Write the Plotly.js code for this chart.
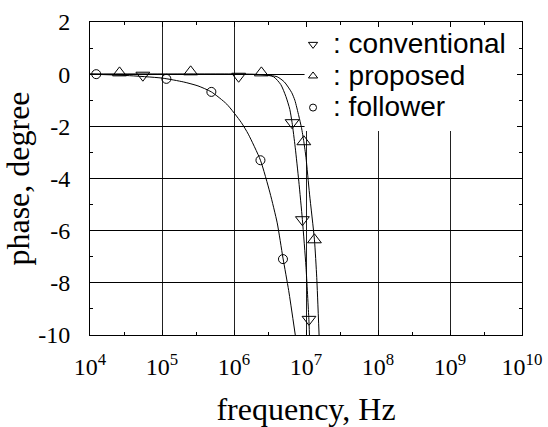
<!DOCTYPE html>
<html>
<head>
<meta charset="utf-8">
<script src="https://cdn.plot.ly/plotly-3.0.1.min.js"></script>
<style>
html,body{margin:0;padding:0;background:#fff;}
#chart{width:548px;height:427px;}
</style>
</head>
<body>
<div id="chart"></div>
<script>
// ---- data ----
// conventional (down triangles)
var convMarkF = [5.42e4, 1.16e6, 6.41e6, 8.91e6, 1.10e7];
var convMarkP = [-0.04, -0.08, -1.86, -5.58, -9.4];
var convCurveF = [1e4, 1e5, 1e6, 2.51e6, 3.55e6, 4.47e6, 5.25e6, 5.96e6, 6.41e6, 7.08e6, 7.94e6, 8.91e6, 1.0e7, 1.096e7, 1.117e7];
var convCurveP = [0, 0, 0, -0.02, -0.1, -0.4, -0.85, -1.35, -1.86, -2.8, -4.1, -5.58, -7.4, -9.4, -10];
// proposed (up triangles)
var propMarkF = [2.57e4, 2.5e5, 2.4e6, 9.33e6, 1.31e7];
var propMarkP = [0.05, 0.09, 0.05, -2.59, -6.35];
var propCurveF = [1e4, 1e5, 1e6, 2.5e6, 3.98e6, 5.01e6, 6.31e6, 7.0e6, 7.94e6, 8.65e6, 9.33e6, 1.0e7, 1.12e7, 1.31e7, 1.41e7, 1.52e7];
var propCurveP = [0, 0, 0, -0.02, -0.1, -0.3, -0.7, -1.0, -1.6, -2.05, -2.59, -3.2, -4.6, -6.35, -7.8, -10];
// follower (circles)
var follMarkF = [1.22e4, 1.15e5, 4.85e5, 2.33e6, 4.79e6];
var follMarkP = [0, -0.18, -0.68, -3.3, -7.09];
var follCurveF = [1e4, 3.16e4, 1e5, 2e5, 3.16e5, 4.85e5, 7.94e5, 1.26e6, 1.58e6, 2.33e6, 3.16e6, 3.98e6, 4.79e6, 5.75e6, 7.1e6];
var follCurveP = [0, -0.05, -0.15, -0.3, -0.45, -0.68, -1.15, -1.85, -2.3, -3.3, -4.55, -5.7, -7.05, -8.3, -10];

var seriesNames = [': conventional', ': proposed', ': follower'];
var xTickVals = [1e4, 1e5, 1e6, 1e7, 1e8, 1e9, 1e10];
var xTickText = ['10<sup>4</sup>', '10<sup>5</sup>', '10<sup>6</sup>', '10<sup>7</sup>', '10<sup>8</sup>', '10<sup>9</sup>', '10<sup>10</sup>'];
var xMinorVals = [3e4, 3e5, 3e6, 3e7, 3e8, 3e9];
var yTickVals = [2, 0, -2, -4, -6, -8, -10];
var yTickText = ['2', '0', '-2', '-4', '-6', '-8', '-10'];

var serif = 'Liberation Serif';
var sans = 'Liberation Sans';

function styled(t) {
  return '<span style="font-family:Liberation Serif;font-size:24px;fill:#000">' + t + '</span>';
}

function curve(x, y) {
  return {x: x, y: y, type: 'scatter', mode: 'lines', showlegend: false, hoverinfo: 'skip',
          line: {color: '#000', width: 1, shape: 'spline', smoothing: 0.6}};
}
function marks(x, y, sym, size) {
  return {x: x, y: y, type: 'scatter', mode: 'markers', showlegend: false,
          marker: {symbol: sym, size: size, color: '#000', line: {color: '#000', width: 1}}};
}
function legendItem(name, sym, size) {
  return {x: [null], y: [null], type: 'scatter', mode: 'markers', showlegend: true,
          name: '<span style="font-size:28px">' + name + '</span>',
          marker: {symbol: sym, size: size, color: '#000', line: {color: '#000', width: 1}}};
}

var data = [
  curve(follCurveF, follCurveP),
  curve(convCurveF, convCurveP),
  curve(propCurveF, propCurveP),
  marks(convMarkF, convMarkP, 'triangle-down-open', 12),
  marks(propMarkF, propMarkP, 'triangle-up-open', 12),
  marks(follMarkF, follMarkP, 'circle-open', 9),
  legendItem(seriesNames[0], 'triangle-down-open', 8),
  legendItem(seriesNames[1], 'triangle-up-open', 8),
  legendItem(seriesNames[2], 'circle-open', 7)
];

var layout = {
  width: 548, height: 427,
  margin: {l: 90, r: 26, t: 22, b: 92, pad: 0},
  paper_bgcolor: '#fff', plot_bgcolor: '#fff',
  font: {family: serif, size: 24, color: '#000'},
  showlegend: true,
  legend: {x: 0.47, y: 0.995, xanchor: 'left', yanchor: 'top', bgcolor: 'rgba(0,0,0,0)',
           font: {family: sans, size: 22, color: '#000'}, tracegroupgap: 0, itemclick: false},
  xaxis: {
    type: 'log', range: [4, 10],
    tickmode: 'array', tickvals: xTickVals, ticktext: xTickText.map(styled),
    ticks: 'inside', ticklen: 5, tickcolor: '#000', tickwidth: 1,
    showline: true, linecolor: '#000', linewidth: 1, mirror: 'ticks',
    showgrid: true, gridcolor: '#222', gridwidth: 1, zeroline: false,
    tickfont: {family: serif, size: 24, color: '#000'},
    ticklabelstandoff: 10,
    minor: {tickmode: 'array', tickvals: xMinorVals, ticks: 'inside', ticklen: 3, tickcolor: '#000', showgrid: false},
    title: {text: 'frequency, Hz', font: {family: serif, size: 32, color: '#000'}, standoff: 18}
  },
  yaxis: {
    range: [-10, 2],
    tickmode: 'array', tickvals: yTickVals, ticktext: yTickText.map(styled),
    ticks: 'inside', ticklen: 5, tickcolor: '#000', tickwidth: 1,
    showline: true, linecolor: '#000', linewidth: 1, mirror: 'ticks',
    showgrid: true, gridcolor: '#000', gridwidth: 1, zeroline: false,
    tickfont: {family: serif, size: 24, color: '#000'},
    ticklabelstandoff: 14,
    minor: {tickmode: 'linear', tick0: 1, dtick: 1, ticks: 'inside', ticklen: 3, tickcolor: '#000', showgrid: false},
    title: {text: 'phase, degree', font: {family: serif, size: 32, color: '#000'}, standoff: 2}
  },
  shapes: [{type: 'rect', xref: 'x', yref: 'y', x0: 9.55e6, x1: 1e10, y0: -2.18, y1: 2,
            fillcolor: '#fff', line: {width: 0}, layer: 'between'}]
};

Plotly.newPlot('chart', data, layout, {staticPlot: true, displayModeBar: false});
</script>
</body>
</html>
